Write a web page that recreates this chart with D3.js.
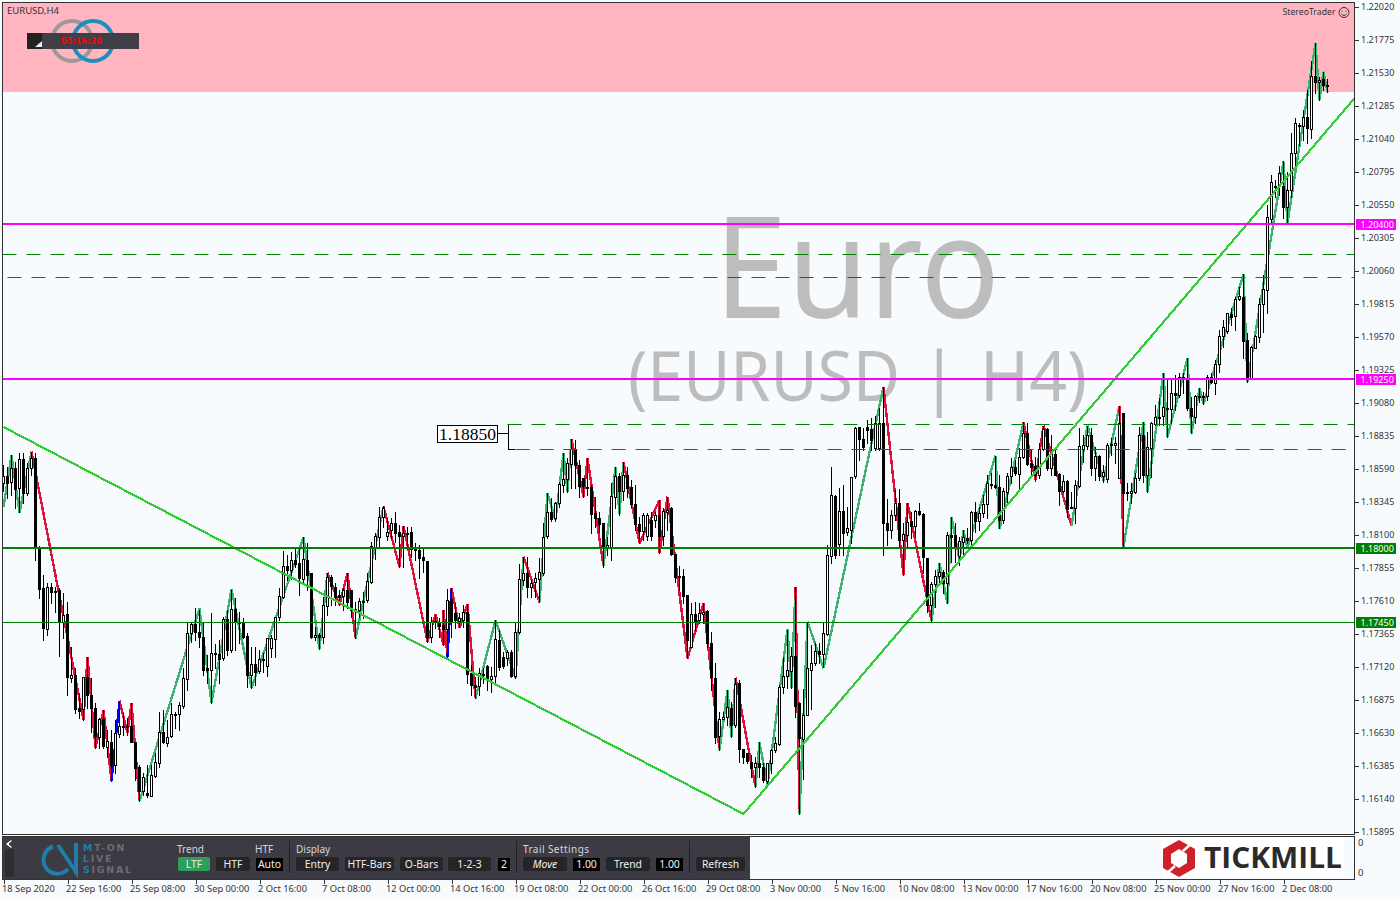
<!DOCTYPE html>
<html><head><meta charset="utf-8">
<script src="https://cdn.jsdelivr.net/npm/d3@7/dist/d3.min.js"></script>
<style>html,body{margin:0;padding:0;background:#f8fbfd;overflow:hidden}svg{display:block}text{font-family:"Noto Sans",sans-serif}</style>
</head><body><svg id="c" width="1400" height="900"></svg>
<script>
// prices are stored as points: price = 1 + points / 100000
const highs=[
18616,18604,18690,18641,18703,18703,18628,18715,18703,18015,
17799,17737,17737,17713,17700,17663,17601,17267,17106,16921,
17044,17188,17032,16846,16735,16797,16649,16649,16723,16866,
16772,16735,16846,16562,16389,16327,16389,16389,16475,16785,
16797,16723,16846,16785,16859,17106,17453,17453,17552,17539,
17453,17205,17515,17287,17317,17490,17539,17688,17626,17527,
17478,17366,17267,17267,17242,17218,17329,17354,17490,17700,
17977,17948,17972,18010,18010,18079,18034,17812,17416,17366,
17638,17817,17799,17737,17688,17700,17812,17688,17601,17626,
17676,17812,18047,18109,18307,18312,18220,18220,18269,18170,
18166,18158,18153,18034,18022,17997,17906,17490,17502,17478,
17539,17693,17705,17589,17520,17577,17584,17131,17044,17106,
17106,17131,17119,17465,17391,17230,17242,17242,17453,17881,
17935,17935,17762,17811,17923,18183,18405,18368,18343,18492,
18702,18665,18806,18801,18653,18517,18665,18467,18376,18269,
18183,18084,18480,18603,18554,18640,18603,18504,18467,18232,
18257,18257,18269,18269,18356,18294,18381,18306,17955,17866,
17841,17651,17589,17601,17589,17589,17539,17379,17143,16785,
16785,16946,16859,17037,17020,16507,16480,16463,16450,16557,
16401,16406,16505,16599,16983,17193,17391,17267,17708,16859,
16950,17453,17280,17292,17292,17441,18022,18599,18393,18443,
18467,18307,18529,18901,18901,18888,18950,18962,18980,19037,
19197,18361,18282,18430,18435,18183,18336,18270,18282,18336,
18257,17923,17750,17836,17886,17836,18121,18232,18182,18083,
18133,18145,18276,18343,18306,18393,18541,18554,18685,18541,
18442,18554,18665,18653,18739,18932,18925,18727,18677,18776,
18907,18888,18838,18727,18554,18541,18504,18417,18504,18888,
18838,18907,18888,18752,18690,18615,18776,18813,18826,19056,
19004,18479,18479,18554,18900,18937,18863,18937,19061,19110,
19296,19247,19247,19284,19296,19296,19407,19123,19135,19185,
19160,19284,19296,19395,19618,19692,19741,19779,19865,19939,
20031,19593,19499,19581,19853,20026,20546,20768,20731,20835,
20875,20793,21078,21189,21152,21251,21400,21615,21746,21499,
21536,21479];
const bodyTops=[
18534,18534,18591,18591,18658,18658,18591,18665,18665,18010,
17700,17713,17713,17683,17688,17502,17510,17054,17057,16809,
17044,17044,16908,16809,16728,16728,16569,16562,16624,16678,
16678,16678,16678,16562,16371,16297,16178,16314,16413,16631,
16631,16599,16765,16765,16832,17032,17371,17435,17435,17379,
17341,17106,17218,17218,17213,17470,17470,17544,17544,17453,
17453,17346,17139,17139,17173,17173,17329,17329,17490,17643,
17866,17866,17911,17911,17886,17916,17911,17812,17351,17351,
17577,17782,17782,17713,17651,17688,17688,17688,17544,17604,
17609,17752,18015,18089,18232,18294,18121,18183,18183,18118,
18109,18114,18116,17990,17985,17930,17906,17453,17458,17453,
17428,17614,17619,17515,17478,17527,17527,17069,16983,17069,
17064,17124,17049,17322,17317,17188,17230,17230,17374,17767,
17816,17816,17742,17774,17819,18084,18264,18264,18331,18475,
18509,18628,18732,18732,18616,18517,18455,18455,18257,18220,
18183,18022,18385,18534,18534,18541,18541,18450,18326,18178,
18244,18242,18207,18242,18242,18274,18282,18294,17955,17794,
17792,17651,17510,17510,17514,17527,17532,17292,17037,16728,
16743,16817,16814,16990,16995,16507,16475,16413,16401,16401,
16376,16401,16500,16550,16970,17049,17094,17198,17198,16847,
16760,17106,17148,17235,17235,17366,17948,18393,18386,18274,
18274,18146,18529,18888,18901,18809,18896,18881,18925,18925,
18925,18183,18245,18331,18331,18104,18195,18200,18274,18274,
18250,17923,17732,17792,17819,17819,18096,18096,18096,18054,
18083,18076,18264,18269,18262,18326,18479,18474,18467,18450,
18422,18536,18598,18598,18677,18855,18855,18633,18608,18732,
18880,18880,18695,18695,18549,18499,18499,18301,18467,18757,
18764,18838,18838,18682,18682,18566,18764,18771,18776,18925,
19004,18413,18422,18516,18838,18838,18747,18925,18974,18974,
19044,19041,19152,19152,19266,19266,19259,19036,19128,19128,
19128,19266,19266,19365,19573,19638,19741,19737,19845,19870,
19865,19544,19494,19573,19811,19922,20454,20719,20689,20781,
20687,20657,20929,21152,21140,21197,21197,21506,21506,21474,
21479,21439];
const bodyBottoms=[
18485,18480,18485,18438,18443,18406,18406,18591,18010,17700,
17403,17403,17676,17678,17453,17453,17044,17032,16802,16785,
16809,16908,16809,16599,16594,16525,16525,16389,16389,16619,
16673,16673,16562,16371,16191,16191,16161,16161,16310,16401,
16554,16554,16599,16760,16765,16827,17032,17371,17379,17341,
17094,17089,17094,17213,17173,17181,17238,17238,17453,17448,
17341,17057,17057,17082,17082,17168,17119,17255,17324,17485,
17638,17836,17836,17881,17775,17767,17799,17337,17337,17337,
17337,17569,17713,17638,17638,17643,17601,17539,17539,17539,
17601,17609,17750,18010,18084,18227,18089,18128,18109,18089,
18089,18109,17990,17980,17923,17906,17341,17341,17453,17421,
17396,17396,17453,17465,17453,17465,17069,16983,16970,16970,
17059,17032,17025,17044,17119,17124,17188,17049,17049,17371,
17767,17712,17712,17742,17769,17816,18084,18215,18220,18331,
18467,18509,18623,18616,18460,18455,18450,18252,18220,18178,
18004,18009,18009,18381,18425,18425,18442,18324,18178,18128,
18128,18089,18091,18202,18089,18089,18269,17955,17787,17787,
17643,17317,17267,17460,17460,17510,17292,17037,16599,16599,
16728,16743,16686,16686,16505,16451,16413,16371,16371,16371,
16277,16270,16401,16495,16545,16965,17049,17089,16829,16587,
16579,16760,17099,17143,17210,17210,17361,17943,17948,18029,
18113,18113,18133,18529,18809,18747,18876,18802,18740,18740,
18183,18133,18133,18245,18059,18059,18096,18166,18166,18250,
17928,17577,17577,17732,17792,17737,17737,18083,17997,17942,
18046,18059,18059,18202,18202,18262,18326,18469,18450,18207,
18207,18417,18534,18554,18554,18677,18628,18603,18541,18541,
18732,18591,18591,18541,18425,18425,18294,18294,18294,18460,
18732,18757,18591,18591,18536,18536,18509,18766,18764,18516,
18413,18405,18405,18413,18516,18541,18536,18739,18920,18969,
18974,19036,19036,19135,19135,19261,19036,18974,18974,19123,
19123,19128,19227,19222,19365,19568,19605,19717,19717,19845,
19539,19259,19259,19482,19568,19808,19915,20447,20684,20689,
20533,20533,20657,20929,21135,21127,21115,21115,21461,21461,
21437,21434];
const lows=[
18425,18368,18393,18294,18269,18331,18393,18542,17911,17626,
17317,17354,17589,17527,17198,17329,16908,17007,16772,16735,
16723,16809,16636,16512,16512,16512,16451,16270,16327,16599,
16611,16611,16562,16277,16121,16166,16154,16159,16302,16376,
16550,16530,16599,16661,16649,16809,16945,17304,17317,17267,
17057,16995,16846,17106,16995,17168,17205,17230,17243,17292,
17329,16970,16958,16983,17069,17082,17049,17193,17193,17465,
17626,17762,17767,17861,17651,17737,17688,17329,17317,17247,
17297,17502,17577,17577,17577,17539,17552,17490,17329,17490,
17478,17601,17737,17916,18010,18158,18059,18071,18047,17861,
17861,18010,17935,17911,17775,17824,17304,17304,17403,17341,
17280,17193,17341,17403,17411,17416,16995,16908,16884,16908,
16995,16945,16933,17007,17094,17106,17131,17044,17032,17371,
17725,17638,17638,17638,17596,17799,18071,18202,18202,18306,
18418,18418,18442,18442,18381,18381,18393,18108,18153,18121,
17861,17948,17910,18294,18244,18356,18381,18306,18133,18034,
18059,18059,18059,18158,17960,18022,18133,17948,17750,17688,
17589,17180,17267,17391,17440,17440,17267,16945,16550,16500,
16728,16686,16599,16673,16413,16401,16401,16297,16223,16302,
16265,16240,16327,16488,16537,16921,16958,16958,16747,16023,
16282,16760,16802,17131,17143,17114,17354,17886,17923,17948,
17948,18096,18034,18517,18653,18727,18777,18727,18727,18727,
17948,18022,18071,18208,17997,17799,18010,18071,18084,18245,
17812,17527,17460,17564,17732,17663,17589,17898,17898,17873,
17947,18034,18022,18121,18133,18232,18220,18442,18442,18145,
18182,18343,18479,18541,18442,18665,18615,18541,18499,18516,
18727,18578,18541,18541,18319,18417,18232,18294,18182,18455,
18640,18732,18541,18504,18504,18492,18492,18690,18628,18516,
18014,18356,18331,18405,18504,18492,18417,18529,18912,18912,
18912,18821,18925,19024,19123,19147,19024,18851,18925,19086,
19069,19098,19222,19143,19308,19494,19598,19655,19618,19840,
19407,19234,19259,19482,19531,19605,19746,20422,20608,20620,
20447,20415,20608,20830,20991,21028,21004,21041,21375,21325,
21400,21387];
// one letter per bar: w = rising (white) candle, b = falling (black) candle
const candleKinds=(
"wbwbwbwwbb"+"bwbbbwbwbb"+"wbbbwbwbww"+"wwbbbwbwww"+"bwwwwwwwbb"+
"bbwwbwbwbw"+"bbwbwwwwww"+"wbwbbwbbwb"+"wwbbbwbbww"+"wwwwwwwwbb"+
"wbbbbbbwwb"+"bwbbwwbbbw"+"wbwwbbwbww"+"wbwwwwwbww"+"wwwbbbwbbb"+
"bwwwbwbbbb"+"wwbwbwwbbb"+"bbwbwwbbbw"+"wwbwbbbbwb"+"bwwwwwwwbb"+
"wwwwbwwwbw"+"bwwwbbbbww"+"bbwwbwwbwb"+"bbwwwbwbbw"+"wbwbwwwwbb"+
"wwwbwwbbbw"+"wbwbbwbwww"+"wwbwbwwwww"+"bwwwwbwwww"+"wbwbwwbbww"+
"wwbwwwwbww"+"bbwwwwwwww"+"bwwwwwbwbw"+"bw");

// zigzag pivots: bar number, price in points, colour of the leg ending there
const zigzagBars=[0,2,4,7,20,21,23,25,27,29,31,32,34,49,52,57,62,75,79,81,84,86,88,95,99,100,106,108,110,110,111,112,114,116,118,123,128,130,134,136,138,140,141,142,145,146,150,153,154,155,159,164,164,166,171,175,179,181,182,183,188,189,191,196,197,198,199,201,205,220,225,226,232,234,236,237,239,240,241,248,249,255,258,260,267,271,275,279,280,285,286,290,291,296,297,299,300,310,311,320,321,328,329,330,331];
const zigzagPoints=[18304,18690,18262,18715,16723,17190,16515,16797,16270,16866,16626,16847,16121,17552,16849,17695,16960,18079,17248,17816,17577,17814,17329,18306,17861,18165,17304,17510,17280,17539,17193,17705,17406,17584,16884,17465,17035,17935,17597,18406,18208,18703,18418,18807,18381,18666,17866,18599,18250,18640,18035,18356,17960,18381,17181,17589,16500,16945,16599,17037,16223,16557,16240,17398,16960,17708,16023,17453,17107,19197,17799,18336,17460,17886,17589,18232,17911,18133,18000,18685,18139,18933,18505,18908,18163,18908,18499,19056,18009,18937,18413,19297,18822,19408,18851,19185,19069,20032,19234,20868,20415,21747,21326,21536,21387];
const zigzagKinds="-ggg"+"rrrrrbrrr"+"ggggggg"+"rrrg"+"rrrrrrr"+"b"+"rrr"+"ggg"+"r"+"ggggg"+"rrr"+"ggg"+"rrrrrrr"+"ggg"+"r"+"ggggg"+"r"+"ggg"+"rrr"+"ggggggggg"+"rrr"+"ggg"+"r"+"gggggggggggggggg";

const trendBars=[0,185,338];
const trendPoints=[18898,16025,21348];

const supportLevels=[1.204,1.1925,1.18,1.1745];
const levelKinds=["magenta","magenta","green","thin"];
const dashedPrices=[1.20183,1.20012,1.1892,1.18735];
const dashedStartBars=[0,1,126,128];

const priceTicks=[1.2202,1.21775,1.2153,1.21285,1.2104,1.20795,1.2055,1.20305,1.2006,1.19815,1.1957,1.19325,1.1908,1.18835,1.1859,1.18345,1.181,1.17855,1.1761,1.17365,1.1712,1.16875,1.1663,1.16385,1.1614,1.15895];
const dateTickBars=[0,16,32,48,64,80,96,112,128,144,160,176,192,208,224,240,256,272,288,304,320];
const dateLabels=["18 Sep 2020","22 Sep 16:00","25 Sep 08:00","30 Sep 00:00","2 Oct 16:00","7 Oct 08:00","12 Oct 00:00","14 Oct 16:00","19 Oct 08:00","22 Oct 00:00","26 Oct 16:00","29 Oct 08:00","3 Nov 00:00","5 Nov 16:00","10 Nov 08:00","13 Nov 00:00","17 Nov 16:00","20 Nov 08:00","25 Nov 00:00","27 Nov 16:00","2 Dec 08:00"];

const zoneFloor=1.21385;   // bottom of the pink zone

const toPrice=p=>1+p/100000;
const x=d3.scaleLinear().domain([0,1]).range([3.5,7.5]);
const y=d3.scaleLinear().domain([1.15895,1.2202]).range([831.5,6.5]);
const levelY=d=>Math.round(y(d)-0.4);
const svg=d3.select("#c");
const L=3,R=1354,T=3,B=834;
svg.append("defs").append("clipPath").attr("id","cp").append("rect").attr("x",L).attr("y",T).attr("width",R-L).attr("height",B-T);

// pink zone
svg.append("rect").attr("x",L).attr("y",T).attr("width",R-L).attr("height",Math.round(y(zoneFloor))-T).attr("fill","#ffb6c1");

// watermark
svg.append("text").attr("x",714).attr("y",318).attr("font-size",140).attr("fill","#bdbdbd").text("Euro").attr("textLength",286).attr("lengthAdjust","spacingAndGlyphs");
const wm=svg.append("text").attr("y",401).attr("font-size",70).attr("fill","#bdbdbd");
wm.append("tspan").attr("x",628).attr("textLength",272).attr("lengthAdjust","spacingAndGlyphs").text("(EURUSD");
wm.append("tspan").attr("x",920).text("|");
wm.append("tspan").attr("x",980).attr("textLength",107).attr("lengthAdjust","spacingAndGlyphs").text("H4)");

const plot=svg.append("g").attr("clip-path","url(#cp)");

// zigzag
const zzLine=d3.line().x(d=>x(d[0])).y(d=>y(toPrice(d[1])));
const zzColours={g:"#3cb371",r:"#dc143c",b:"#0000ff"};
const zzLegs=d3.range(1,zigzagBars.length).map(i=>({k:zigzagKinds[i],pts:[[zigzagBars[i-1],zigzagPoints[i-1]],[zigzagBars[i],zigzagPoints[i]]]}));
plot.append("g").attr("fill","none").attr("stroke-width",2.4).attr("shape-rendering","crispEdges")
 .selectAll("path").data(zzLegs).join("path").attr("stroke",d=>zzColours[d.k]).attr("d",d=>zzLine(d.pts));

// candles
const barIdx=d3.range(highs.length);
const cg=plot.append("g").attr("shape-rendering","crispEdges");
cg.selectAll("line").data(barIdx).join("line")
 .attr("x1",i=>x(i)).attr("x2",i=>x(i))
 .attr("y1",i=>y(toPrice(highs[i]))).attr("y2",i=>y(toPrice(lows[i]))+1)
 .attr("stroke","#000");
cg.selectAll("rect").data(barIdx).join("rect")
 .attr("x",i=>x(i)-1).attr("width",2)
 .attr("y",i=>Math.round(y(toPrice(bodyTops[i])))+0.5)
 .attr("height",i=>Math.max(1,Math.round(y(toPrice(bodyBottoms[i]))-y(toPrice(bodyTops[i])))))
 .attr("fill",i=>candleKinds[i]==="w"?"#ffffff":"#000000").attr("stroke","#000");

// dashed levels
plot.append("g").selectAll("line").data(dashedPrices).join("line")
 .attr("x1",(d,i)=>x(dashedStartBars[i])+[-1,0,0,0][i]).attr("x2",R)
 .attr("y1",d=>Math.round(y(d))+.5).attr("y2",d=>Math.round(y(d))+.5)
 .attr("stroke","#008000").attr("stroke-dasharray","14,10");

// trend lines
plot.append("path").attr("fill","none").attr("stroke","#32cd32").attr("stroke-width",2.2).attr("shape-rendering","crispEdges")
 .attr("d",d3.line().x((d,i)=>x(d)).y((d,i)=>y(toPrice(trendPoints[i])))(trendBars));

// support / resistance lines
const levelStyle={magenta:["#ff00ff",2],green:["#008000",2],thin:["#008000",1]};
plot.append("g").selectAll("line").data(supportLevels).join("line")
 .attr("x1",L).attr("x2",R).attr("y1",levelY).attr("y2",levelY)
 .attr("stroke",(d,i)=>levelStyle[levelKinds[i]][0]).attr("stroke-width",(d,i)=>levelStyle[levelKinds[i]][1]).attr("shape-rendering","crispEdges");

// callout
const co=svg.append("g");
co.append("path").attr("d","M497.5 433.5H508.5V424.5M508.5 433.5V449.5H515").attr("fill","none").attr("stroke","#000").attr("shape-rendering","crispEdges");
co.append("rect").attr("x",437.5).attr("y",425.5).attr("width",60).attr("height",17).attr("fill","#fff").attr("stroke","#000").attr("shape-rendering","crispEdges");
co.append("text").attr("x",467.5).attr("y",439.5).attr("text-anchor","middle").attr("font-size",17.5).attr("fill","#000").style("font-family","'Liberation Serif',serif").text(d3.format(".5f")(1.1885));

// frames
const frame=svg.append("g").attr("fill","none").attr("stroke","#333").attr("shape-rendering","crispEdges");
frame.append("rect").attr("x",2.5).attr("y",2.5).attr("width",1352).attr("height",832);
frame.append("rect").attr("x",2.5).attr("y",836.5).attr("width",1352).attr("height",43);

// price axis
const yAxis=d3.axisRight(y).tickValues(priceTicks).tickFormat(d3.format(".5f")).tickSize(4).tickSizeOuter(0);
const ya=svg.append("g").attr("transform","translate(1355,0)").call(yAxis);
ya.select(".domain").remove();
ya.selectAll("line").attr("stroke","#333").attr("shape-rendering","crispEdges");
ya.selectAll("text").attr("x",6).attr("font-size",9).attr("fill","#333").style("font-family","'Noto Sans',sans-serif");
// level flags
const flags=svg.append("g").selectAll("g").data(supportLevels).join("g").attr("transform",d=>`translate(1356,${levelY(d)})`);
flags.append("rect").attr("x",0).attr("y",-5).attr("width",40).attr("height",11).attr("fill",(d,i)=>levelStyle[levelKinds[i]][0]);
flags.append("text").attr("x",4.5).attr("y",3.5).attr("font-size",9).attr("fill","#fff").text(d=>d3.format(".5f")(d));

// date axis
const xAxis=d3.axisBottom(x).tickValues(dateTickBars).tickFormat((d,i)=>dateLabels[i]).tickSize(4).tickSizeOuter(0);
const xa=svg.append("g").attr("transform","translate(0,880)").call(xAxis);
xa.select(".domain").remove();
xa.selectAll("line").attr("stroke","#333").attr("shape-rendering","crispEdges");
xa.selectAll("text").attr("text-anchor","start").attr("dx",-2).attr("y",5).attr("font-size",9.3).attr("fill","#333").style("font-family","'Noto Sans',sans-serif");

// sub-window zero labels
[843,873].forEach(v=>svg.append("text").attr("x",1358).attr("y",v+3).attr("font-size",9.5).attr("fill","#333").text("0"));

// header texts
svg.append("text").attr("x",7).attr("y",14).attr("font-size",9.5).attr("fill","#333").text("EURUSD,H4");
svg.append("text").attr("x",1282.5).attr("y",15).attr("font-size",9.5).attr("fill","#333").attr("textLength",53).attr("lengthAdjust","spacingAndGlyphs").text("StereoTrader");
const sm=svg.append("g").attr("fill","none").attr("stroke","#333");
sm.append("circle").attr("cx",1344).attr("cy",12.5).attr("r",5);
sm.append("path").attr("d","M1341.5 14a3 3 0 0 0 5 0");
sm.append("path").attr("d","M1342 10.5v1M1346 10.5v1");

// clock badge and rings
const rings=svg.append("g").attr("fill","none").attr("stroke-width",4);
rings.append("circle").attr("cx",72).attr("cy",41).attr("r",20).attr("stroke","#9a9a9a");
rings.append("circle").attr("cx",93).attr("cy",41).attr("r",20).attr("stroke","#1b8fc0");
svg.append("rect").attr("x",27).attr("y",33).attr("width",112).attr("height",16).attr("fill","#403e47");
svg.append("rect").attr("x",27).attr("y",33).attr("width",15).attr("height",16).attr("fill","#222");
svg.append("path").attr("d","M35 47L42 47L42 41Z").attr("fill","#eee");
svg.append("text").attr("x",61).attr("y",44).attr("font-size",8.2).attr("font-weight",700).attr("fill","#ff0000").style("font-family","'DejaVu Sans',sans-serif").text("05:16:20");

// control panel
const panel=svg.append("g");
panel.append("rect").attr("x",3).attr("y",837).attr("width",747).attr("height",42).attr("fill","#3c3a42");
panel.append("rect").attr("x",5).attr("y",849).attr("width",9).attr("height",28).attr("fill","#2e2d33");
panel.append("path").attr("d","M11.5 840.5L7 844L11.5 847.5M7 844H9").attr("fill","none").attr("stroke","#fff").attr("stroke-width",1.3);
// panel logo
const lg=panel.append("g").attr("fill","none").attr("stroke","#1f7fa8").attr("stroke-width",4);
lg.append("path").attr("d","M53 846.5A14 14 0 1 0 68 869");
lg.append("path").attr("d","M58 845L76 872V843");
const logoText=[["MT-ON",83,851],["LIVE",83,862],["SIGNAL",83,873]];
logoText.forEach(t=>{const e=panel.append("text").attr("x",t[1]).attr("y",t[2]).attr("font-size",9.4).attr("font-weight",700).attr("letter-spacing",1.8).attr("fill","#6d6c72").style("font-family","'DejaVu Sans',sans-serif");
 e.append("tspan").attr("fill","#1f7fa8").text(t[0][0]);e.append("tspan").text(t[0].slice(1));});
const panelCaptions=[["Trend",177,null],["HTF",255,null],["Display",296,null],["Trail Settings",523,66]];
panelCaptions.forEach(c=>{const e=panel.append("text").attr("x",c[1]).attr("y",853).attr("font-size",10).attr("fill","#d6d6d6").text(c[0]);if(c[2])e.attr("textLength",c[2]);});
const panelButtons=[["LTF",178,32,"#2e9e5b"],["HTF",216,34,"#252428"],["Auto",256,27,"#000"],["Entry",296,43,"#252428"],["HTF-Bars",345,49,"#252428"],["O-Bars",400,43,"#252428"],["1-2-3",448,43,"#252428"],["2",498,12,"#000"],["Move",523,44,"#252428"],["1.00",573,27,"#000"],["Trend",606,44,"#252428"],["1.00",656,27,"#000"],["Refresh",696,49,"#252428"]];
panelButtons.forEach(b=>{const dark=b[3]==="#000";
 panel.append("rect").attr("x",b[1]).attr("y",dark?858:857).attr("width",b[2]).attr("height",dark?13:14).attr("rx",dark?0:2).attr("fill",b[3]);
 panel.append("text").attr("x",b[1]+b[2]/2).attr("y",868).attr("text-anchor","middle").attr("font-size",10.4).attr("fill","#f0f0f0").attr("font-style",b[0]==="Move"?"italic":"normal").text(b[0]);});
[289,516,689].forEach(s=>panel.append("line").attr("x1",s+.5).attr("x2",s+.5).attr("y1",841).attr("y2",873).attr("stroke","#222"));

// Tickmill logo
const tk=svg.append("g");
tk.append("rect").attr("x",1162).attr("y",838).attr("width",182).attr("height",40).attr("fill","#fff");
tk.append("path").attr("d","M1179 840L1195 849V868L1179 877L1163 868V849Z").attr("fill","#cf2228");
tk.append("path").attr("d","M1179 849L1187 854V863L1179 868L1171 863V854Z").attr("fill","#fff");
tk.append("path").attr("d","M1183 851L1192 843M1175 866L1166 874").attr("stroke","#fff").attr("stroke-width",2.5);
tk.append("text").attr("x",1204).attr("y",868).attr("font-size",28).attr("font-weight",700).attr("fill","#2b2b2b").style("font-family","'Open Sans',sans-serif").attr("textLength",138).attr("lengthAdjust","spacingAndGlyphs").text("TICKMILL");
</script></body></html>
